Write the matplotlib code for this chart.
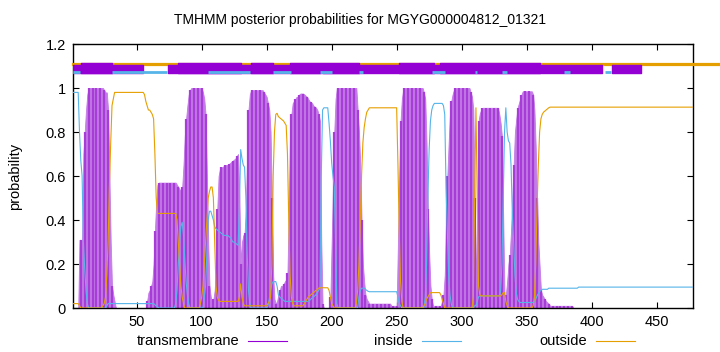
import numpy as np
import matplotlib
matplotlib.use("Agg")
import matplotlib.pyplot as plt
from matplotlib.lines import Line2D

plt.rcParams['font.family'] = ['Liberation Sans', 'DejaVu Sans']

# posterior probabilities per residue
tm = ([0.0]*5 + [0.31, 0.31, 0.31] + [0.7, 0.8, 0.9, 0.97] + [1.0]*12
      + [0.99, 0.98, 0.98, 0.9, 0.6, 0.3, 0.1, 0.06, 0.03] + [0.0]*24
      + [0.03, 0.07, 0.08, 0.1, 0.12, 0.2, 0.35, 0.48, 0.56] + [0.57]*13
      + [0.57, 0.56, 0.55, 0.54, 0.53, 0.55, 0.65, 0.78, 0.86, 0.92, 0.97, 0.99] + [1.0]*9
      + [0.98, 0.95, 0.88, 0.6, 0.3, 0.1, 0.05, 0.03, 0.04, 0.08, 0.2, 0.45, 0.6,
         0.63, 0.64, 0.64, 0.645, 0.65, 0.65, 0.65, 0.655, 0.66, 0.665, 0.67, 0.675,
         0.68, 0.69, 0.7, 0.5, 0.2, 0.3, 0.33, 0.34, 0.45, 0.7, 0.9, 0.97] + [0.99]*10
      + [0.98, 0.97, 0.96, 0.93, 0.9, 0.8, 0.5, 0.15, 0.04, 0.02, 0.03, 0.06, 0.08,
         0.1, 0.1, 0.11, 0.12, 0.13, 0.16, 0.45, 0.8, 0.88, 0.93, 0.94, 0.95, 0.96,
         0.96, 0.97, 0.975, 0.975, 0.975, 0.97, 0.965, 0.96, 0.95, 0.94, 0.935, 0.93,
         0.92, 0.915, 0.91, 0.9, 0.88, 0.85, 0.3, 0.02] + [0.0]*5
      + [0.05, 0.3, 0.55, 0.8, 0.95] + [1.0]*16
      + [0.9, 0.8, 0.65, 0.4, 0.2, 0.12, 0.06, 0.04, 0.03] + [0.02]*17 + [0.01]*5
      + [0.3, 0.6, 0.85, 0.95, 0.99] + [1.0]*15
      + [0.98, 0.95, 0.75, 0.45, 0.25, 0.1, 0.04] + [0.01]*7
      + [0.03, 0.06, 0.15, 0.4, 0.6, 0.75, 0.88, 0.94, 0.97, 0.99] + [1.0]*12
      + [0.98, 0.96, 0.9, 0.5, 0.08, 0.5, 0.85, 0.885, 0.9] + [0.91]*13
      + [0.88, 0.84, 0.78, 0.4, 0.05, 0.06, 0.12, 0.2, 0.24, 0.35, 0.5, 0.65, 0.8,
         0.86, 0.91, 0.93, 0.95, 0.97] + [0.985]*8
      + [0.97, 0.9, 0.73, 0.5, 0.3, 0.19, 0.08, 0.06, 0.05, 0.04, 0.03, 0.025, 0.02]
      + [0.01]*18 + [0.0]*93)

inside = ([0.98]*5 + [0.8, 0.67, 0.6, 0.3, 0.18, 0.08, 0.02] + [0.0]*14 + [0.01]
          + [0.02]*35 + [0.02, 0.015, 0.01, 0.005] + [0.0]*13
          + [0.02, 0.08, 0.2, 0.3, 0.37, 0.39, 0.33, 0.22, 0.12, 0.06, 0.02] + [0.0]*11
          + [0.05, 0.1, 0.25, 0.4, 0.44, 0.44, 0.42, 0.4, 0.37, 0.36, 0.355, 0.35,
             0.345, 0.34, 0.335, 0.33, 0.33, 0.33, 0.33, 0.325, 0.32, 0.31, 0.3, 0.3,
             0.295, 0.29, 0.285, 0.45, 0.72, 0.68, 0.65, 0.64, 0.5, 0.25, 0.08, 0.02]
          + [0.0]*13
          + [0.01, 0.04, 0.08, 0.11, 0.12, 0.12, 0.12, 0.1, 0.06, 0.05, 0.045, 0.04,
             0.035, 0.03] + [0.03]*18
          + [0.035, 0.04, 0.045, 0.05, 0.055, 0.06, 0.07, 0.08, 0.09, 0.6, 0.9]
          + [0.91]*4 + [0.84, 0.76, 0.66, 0.6, 0.55, 0.3, 0.02] + [0.0]*16
          + [0.05, 0.08, 0.09, 0.09, 0.09, 0.085, 0.08, 0.076] + [0.074]*22
          + [0.05, 0.02, 0.01] + [0.0]*18
          + [0.05, 0.2, 0.5, 0.72, 0.85, 0.9, 0.92] + [0.93]*7
          + [0.92, 0.88, 0.55, 0.35, 0.15, 0.06, 0.02] + [0.0]*17
          + [0.01, 0.01, 0.03, 0.05] + [0.055]*16
          + [0.08, 0.2, 0.5, 0.8, 0.91, 0.8, 0.76, 0.75, 0.65, 0.43, 0.3, 0.15, 0.07,
             0.04, 0.03] + [0.025]*11
          + [0.03, 0.04, 0.055, 0.065, 0.075, 0.08] + [0.085]*5 + [0.09]*23
          + [0.095]*89)

outside = ([0.02]*5 + [0.01] + [0.0]*17
           + [0.01, 0.02, 0.05, 0.15, 0.3, 0.55, 0.75, 0.92, 0.95] + [0.98]*23
           + [0.97, 0.94, 0.92, 0.9, 0.9, 0.89, 0.88, 0.86, 0.7, 0.5] + [0.43]*15
           + [0.4, 0.3, 0.2, 0.1, 0.05, 0.02] + [0.0]*12
           + [0.02, 0.05, 0.1, 0.2, 0.3, 0.4, 0.5, 0.53, 0.55, 0.55, 0.5, 0.3, 0.1,
              0.05, 0.035] + [0.03]*15 + [0.05, 0.11, 0.05, 0.02] + [0.01]*18
           + [0.02, 0.03, 0.05, 0.2, 0.6, 0.8, 0.88, 0.885, 0.87, 0.865, 0.86, 0.855,
              0.85, 0.84, 0.83, 0.7, 0.4, 0.15, 0.05, 0.02] + [0.01]*8
           + [0.02, 0.03, 0.04, 0.05, 0.055, 0.06, 0.065, 0.07, 0.075, 0.08, 0.085, 0.09]
           + [0.092]*7 + [0.08, 0.05, 0.02, 0.01] + [0.0]*17
           + [0.02, 0.08, 0.2, 0.4, 0.6, 0.75, 0.82, 0.86, 0.89, 0.9] + [0.91]*22
           + [0.65, 0.35, 0.12, 0.03] + [0.0]*16
           + [0.01, 0.02, 0.04, 0.05, 0.06] + [0.07]*8 + [0.06, 0.04, 0.02] + [0.0]*22
           + [0.05, 0.5, 0.91, 0.5, 0.1, 0.06] + [0.055]*16
           + [0.06, 0.07, 0.07, 0.03, 0.01] + [0.0]*19
           + [0.01, 0.05, 0.2, 0.45, 0.65, 0.8, 0.86, 0.88, 0.89, 0.895, 0.9, 0.905, 0.91]
           + [0.913]*111)

# predicted topology drawn above the curves
topo_tm = [(1, 55), (74, 191), (193, 408), (416, 438)]
topo_tm_tall = [(7, 31), (82, 130), (138, 155), (168, 221), (252, 279), (283, 360)]
topo_in = [(1, 6), (31, 73), (105, 137), (155, 169), (191, 200), (221, 224),
           (277, 287), (310, 312), (331, 335), (379, 383), (410, 415)]

purple = '#9400d3'
blue = '#56b4e9'
orange = '#e69f00'

fig = plt.figure(figsize=(7.2, 3.52), dpi=100)
ax = fig.add_axes([0.1014, 0.125, 0.8611, 0.75])

# transmembrane: light filled area with darker impulses on every third residue
res_tm = np.arange(1, len(tm) + 1)
tm_arr = np.array(tm)
ax.fill_between(res_tm, 0, tm_arr, color='#c47ce6', linewidth=0.6,
                edgecolor='#c47ce6', zorder=2)
ax.vlines(res_tm[::3], 0, tm_arr[::3], color='#a83cd8', lw=1.6, zorder=2)

ax.plot(np.arange(1, len(inside) + 1), inside, color=blue, lw=0.8, zorder=3)
ax.plot(np.arange(1, len(outside) + 1), outside, color=orange, lw=0.8, zorder=3)

# topology bar
ax.axhline(1.111, xmin=0, xmax=1.06, color=orange, lw=2.3, clip_on=False, zorder=3)
ax.broken_barh([(a, b - a) for a, b in topo_tm], (1.068, 0.038), color=purple, zorder=4)
ax.broken_barh([(a, b - a) for a, b in topo_tm_tall], (1.068, 0.046), color=purple, zorder=4)
for a, b in topo_in:
    ax.plot([a, b], [1.0725, 1.0725], color=blue, lw=2.0, solid_capstyle='butt', zorder=5)

ax.set_xlim(1, 478)
ax.set_ylim(0, 1.2)
ax.set_xticks([50, 100, 150, 200, 250, 300, 350, 400, 450])
ax.set_yticks([0, 0.2, 0.4, 0.6, 0.8, 1.0, 1.2])
ax.set_yticklabels(['0', '0.2', '0.4', '0.6', '0.8', '1', '1.2'])
ax.tick_params(direction='in', top=True, right=True, length=4, width=0.8,
               labelsize=10.5, pad=5)
for s in ax.spines.values():
    s.set_linewidth(1.0)
ax.set_ylabel('probability', fontsize=10.5)
ax.yaxis.set_label_coords(-0.083, 0.5)
fig.text(0.5, 1 - 20 / 352, 'TMHMM posterior probabilities for MGYG000004812_01321',
         ha='center', va='center', fontsize=10)

# key below the plot, gnuplot style
key = [('transmembrane', purple, 239, 248), ('inside', blue, 413, 422), ('outside', orange, 587, 596)]
for label, col, tx, lx in key:
    fig.text(tx / 720, 1 - 341 / 352, label, ha='right', va='center', fontsize=10.5)
    fig.add_artist(Line2D([lx / 720, (lx + 39) / 720], [1 - 341 / 352] * 2,
                          color=col, lw=0.8))

fig.savefig('out.png', dpi=100)
